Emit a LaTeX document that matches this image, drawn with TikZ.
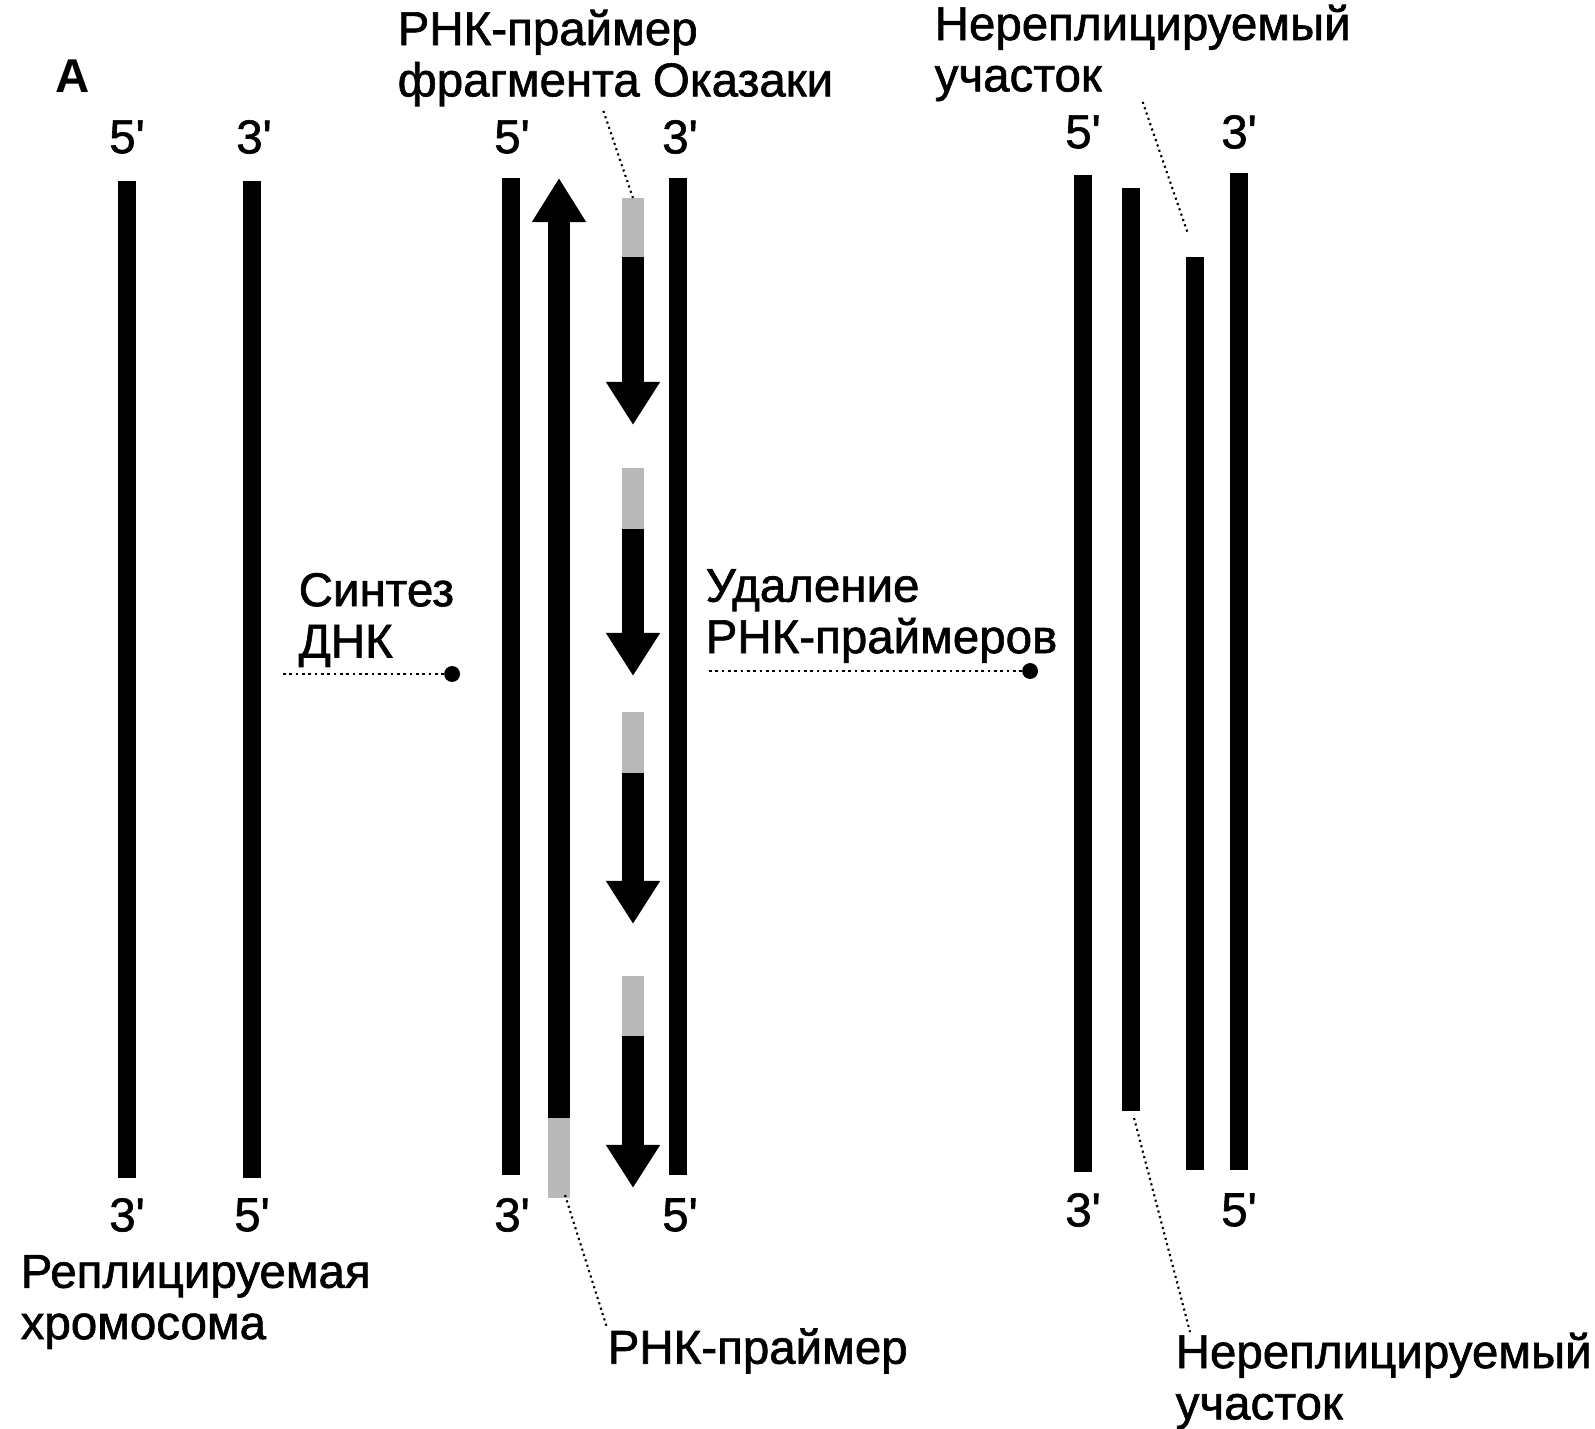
\documentclass[tikz,border=0pt]{standalone}
\usepackage{fontspec}
\setmainfont{Liberation Sans}
\newfontfamily\lblfont{Liberation Sans}[BoldFont={Liberation Sans}, BoldFeatures={FakeBold=1.3}]
\usetikzlibrary{arrows.meta}

\begin{document}
\begin{tikzpicture}[x=0.01cm, y=-0.01cm,
    strand/.style={line width=5.2pt},
    frag/.style={line width=6pt, -{Triangle[length=0.43cm, width=0.51cm]}},
    primer/.style={line width=6pt, gray!55},
    lbl/.style={font=\lblfont\bfseries\fontsize{13.5}{14.6}\selectfont, align=left, inner sep=0pt},
    leader/.style={densely dotted, semithick},
    stage/.style={densely dotted, thick, -{Circle[length=4.5pt]}}]
    \useasboundingbox (0,0) rectangle (1595,1428);

    % Panel letter
    \node (A) at (73,76) [font=\bfseries\fontsize{13.5}{14.6}\selectfont, inner sep=0pt] {А};

    % Replicating chromosome
    \draw[strand] (127,181) -- (127,1178);
    \draw[strand] (252,181) -- (252,1178);
    \node (c5t) at (127,137) [lbl] {5\textquotesingle};
    \node (c3t) at (254,137) [lbl] {3\textquotesingle};
    \node (c3b) at (127,1215) [lbl] {3\textquotesingle};
    \node (c5b) at (252,1215) [lbl] {5\textquotesingle};
    \node (chrom) at (20,1302) [lbl, anchor=west] {Реплицируемая\\хромосома};

    % DNA synthesis step
    \node (synth) at (298,620) [lbl, anchor=west] {Синтез\\ДНК};
    \coordinate (s1) at (283,674);
    \coordinate (s2) at (460,674);
    \draw[stage] (s1) -- (s2);

    % Replicated strands
    \draw[strand] (511,178) -- (511,1175);
    \draw[strand] (678,178) -- (678,1175);
    \draw[primer] (559,1116) -- (559,1198);
    \draw[line width=6.2pt, -{Triangle[length=0.44cm, width=0.51cm]}] (559,1118) -- (559,178);
    \foreach \ya/\yb/\yc [count=\i] in {198/259/425, 468/531/676, 712/775/924, 976/1038/1188} {
        \draw[primer] (633,\ya) -- (633,\yb);
        \coordinate (p\i) at (633,\ya);
        \draw[frag] (633,\yb-2) -- (633,\yc);
    }
    \node (m5t) at (512,137) [lbl] {5\textquotesingle};
    \node (m3t) at (680,137) [lbl] {3\textquotesingle};
    \node (m3b) at (512,1215) [lbl] {3\textquotesingle};
    \node (m5b) at (680,1215) [lbl] {5\textquotesingle};
    \node (okz) at (397,58) [lbl, anchor=west] {РНК-праймер\\фрагмента Оказаки};
    \draw[leader] (okz.south) ++(-12,4) -- (p1);
    \coordinate (lp) at (565,1195);
    \node (rp) at (607,1351) [lbl, anchor=west] {РНК-праймер};
    \draw[leader] (lp) -- (rp.north west);

    % Primer removal step
    \node (rem) at (705,616) [lbl, anchor=west] {Удаление\\РНК-праймеров};
    \coordinate (r1) at (709,671);
    \coordinate (r2) at (1038,671);
    \draw[stage] (r1) -- (r2);

    % Result with unreplicated ends
    \draw[strand] (1083,175) -- (1083,1172);
    \draw[strand] (1131,188) -- (1131,1111);
    \draw[strand] (1195,257) -- (1195,1170);
    \draw[strand] (1239,173) -- (1239,1170);
    \coordinate (gapt) at (1188,234);
    \coordinate (gapb) at (1134,1118);
    \node (e5t) at (1083,132) [lbl] {5\textquotesingle};
    \node (e3t) at (1239,132) [lbl] {3\textquotesingle};
    \node (e3b) at (1083,1210) [lbl] {3\textquotesingle};
    \node (e5b) at (1239,1210) [lbl] {5\textquotesingle};
    \node (nr1) at (934,53) [lbl, anchor=west] {Нереплицируемый\\участок};
    \draw[leader] (nr1.south) -- (gapt);
    \node (nr2) at (1175,1381) [lbl, anchor=west] {Нереплицируемый\\участок};
    \draw[leader] (gapb) -- ([xshift=0.15cm]nr2.north west);
\end{tikzpicture}
\end{document}
